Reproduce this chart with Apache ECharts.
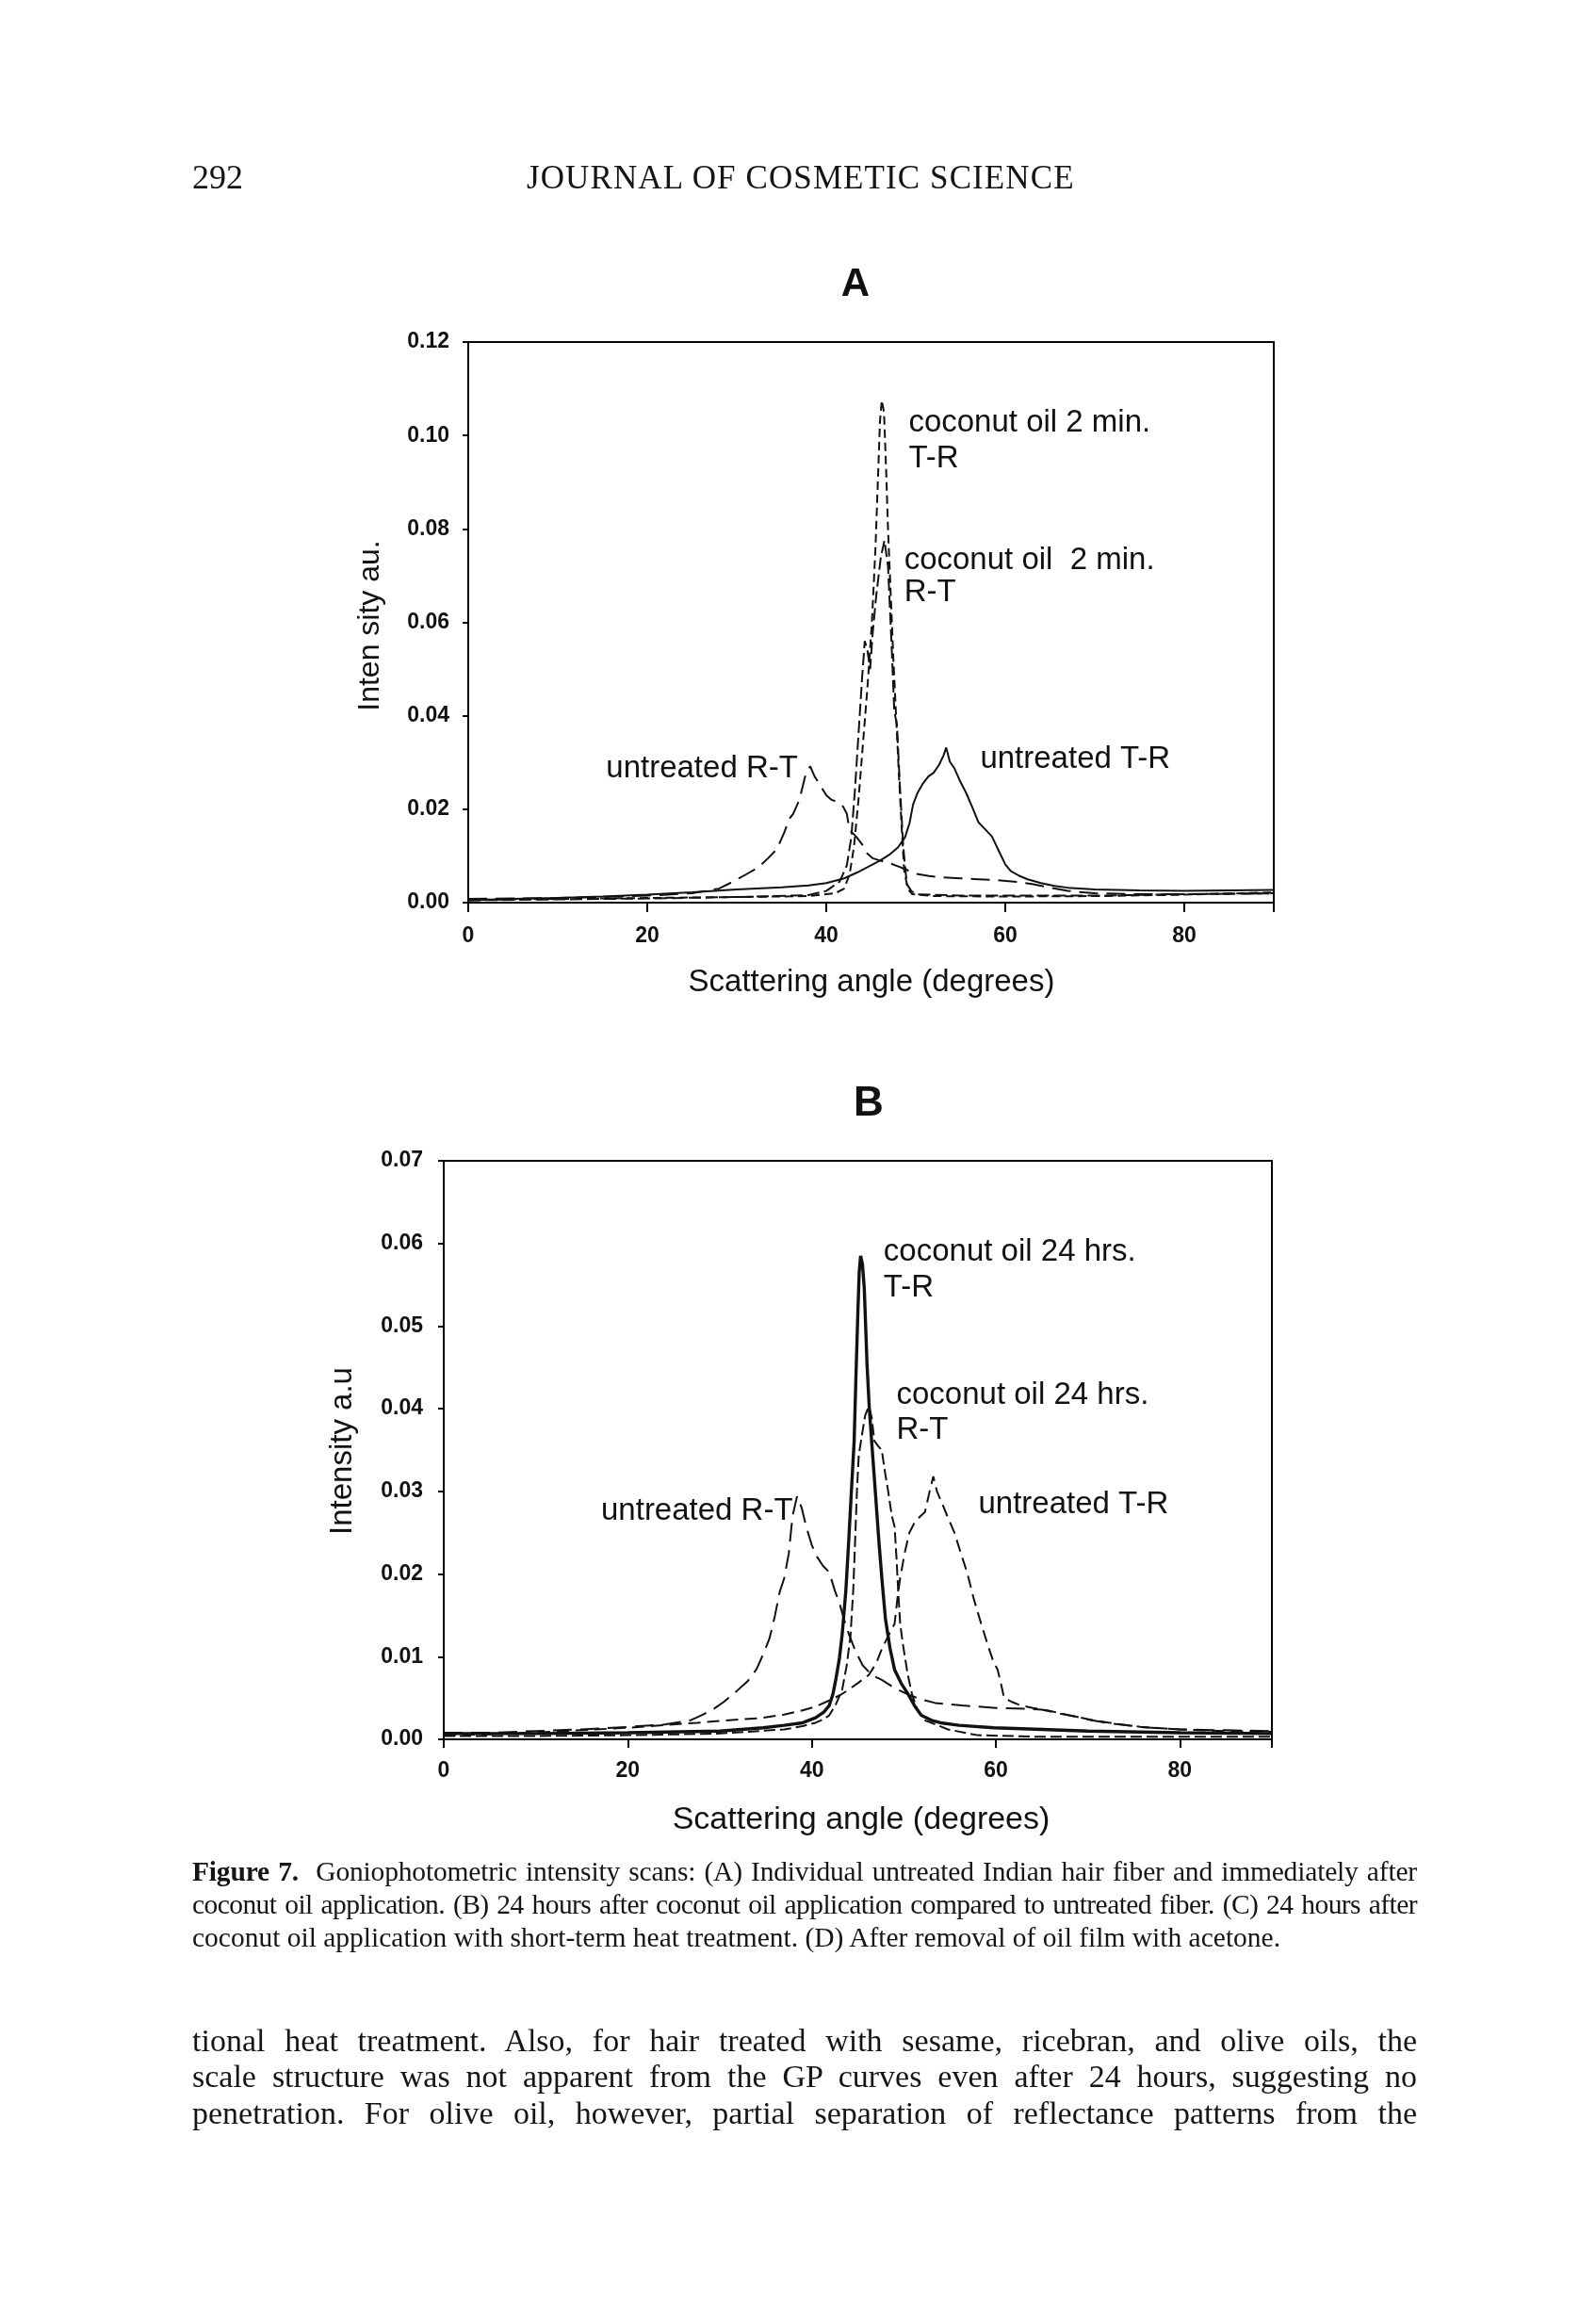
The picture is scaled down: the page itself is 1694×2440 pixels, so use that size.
<!DOCTYPE html>
<html><head><meta charset="utf-8">
<script src="https://cdn.jsdelivr.net/npm/echarts@6/dist/echarts.min.js"></script>
<style>
html,body{margin:0;padding:0;background:#fff;}
#page{position:relative;width:1694px;height:2440px;overflow:hidden;background:#fff;}
#chart{position:absolute;left:0;top:0;width:1694px;height:2440px;}
.t{position:absolute;font-family:'Liberation Serif','DejaVu Serif',serif;color:#151515;line-height:1;white-space:nowrap;}
</style></head>
<body><div id="page"><div id="chart"></div>
<div class="t" style="left:204px;top:170px;font-size:36px;">292</div>
<div class="t" style="left:559px;top:171px;font-size:35px;letter-spacing:1.1px;">JOURNAL OF COSMETIC SCIENCE</div>
<div class="t fit" style="left:204px;top:1972px;font-size:29.5px;"><span style="font-weight:bold;">Figure 7.</span>&nbsp; Goniophotometric intensity scans: (A) Individual untreated Indian hair fiber and immediately after</div>
<div class="t fit" style="left:204px;top:2007px;font-size:29.5px;">coconut oil application. (B) 24 hours after coconut oil application compared to untreated fiber. (C) 24 hours after</div>
<div class="t" style="left:204px;top:2042px;font-size:29.5px;">coconut oil application with short-term heat treatment. (D) After removal of oil film with acetone.</div>
<div class="t fit" style="left:204px;top:2149px;font-size:34px;">tional heat treatment. Also, for hair treated with sesame, ricebran, and olive oils, the</div>
<div class="t fit" style="left:204px;top:2187px;font-size:34px;">scale structure was not apparent from the GP curves even after 24 hours, suggesting no</div>
<div class="t fit" style="left:204px;top:2226px;font-size:34px;">penetration. For olive oil, however, partial separation of reflectance patterns from the</div>
</div>
<script>
// justify each full text line to the column width (204 .. 1504)
(function(){
  const target = 1300;
  document.querySelectorAll('.fit').forEach(function(el){
    let w = el.getBoundingClientRect().width;
    const txt = el.textContent;
    const spaces = (txt.match(/[ \u00a0]/g) || []).length;
    if (w > target - spaces * 1) {
      el.style.letterSpacing = ((target - spaces * 2 - w) / txt.length) + 'px';
      w = el.getBoundingClientRect().width;
    }
    el.style.wordSpacing = ((target - w) / spaces) + 'px';
  });
})();

// ---------- DATA ----------
// Panel A: axis ticks
const xTicksA = [0, 20, 40, 60, 80];
const yTicksA = [0, 0.02, 0.04, 0.06, 0.08, 0.10, 0.12];
// Panel B: axis ticks
const xTicksB = [0, 20, 40, 60, 80];
const yTicksB = [0, 0.01, 0.02, 0.03, 0.04, 0.05, 0.06, 0.07];

// Panel A series  [angle, intensity]
const aUntreatedRT = [[0,0.0008],[5,0.0009],[10,0.001],[15,0.0012],[20,0.0015],[25,0.002],[28,0.003],[29.6,0.0045],[31,0.006],[32.4,0.0075],[33.5,0.0095],[34.5,0.0115],[35.3,0.015],[35.9,0.018],[36.3,0.019],[37,0.022],[37.7,0.0275],[38.2,0.0292],[38.7,0.027],[39.2,0.0255],[40,0.023],[40.6,0.022],[41.3,0.0215],[41.9,0.0205],[42.3,0.019],[42.6,0.0155],[43,0.0148],[43.4,0.014],[44,0.0125],[44.6,0.0105],[45.2,0.0095],[46,0.009],[47,0.0085],[48,0.0078],[49,0.007],[50,0.0062],[51.5,0.0057],[53,0.0054],[55,0.0052],[57,0.005],[59,0.0048],[61,0.0045],[63,0.004],[65,0.0032],[67,0.0025],[70,0.002],[75,0.0018],[80,0.0018],[85,0.0019],[90,0.002]];
const aUntreatedTR = [[0,0.0005],[5,0.0008],[10,0.001],[15,0.0013],[20,0.0017],[25,0.0022],[30,0.0028],[35,0.0033],[38,0.0037],[40,0.0042],[42,0.0052],[43.5,0.0065],[45,0.008],[46,0.009],[47,0.0102],[48,0.0118],[48.8,0.014],[49.3,0.017],[49.7,0.021],[50.2,0.0235],[50.8,0.0255],[51.4,0.027],[52,0.0278],[52.6,0.0295],[53.1,0.0315],[53.4,0.0332],[53.8,0.0302],[54.3,0.0288],[55,0.0258],[55.6,0.0236],[56.3,0.0205],[57,0.0172],[57.8,0.0156],[58.5,0.0142],[59.3,0.011],[60,0.0082],[60.6,0.0068],[61.5,0.0058],[62.5,0.005],[64,0.0042],[65.5,0.0036],[67,0.0032],[70,0.0028],[75,0.0026],[80,0.0025],[85,0.0026],[90,0.0027]];
const aCoconutTR = [[0,0.0006],[10,0.0008],[20,0.001],[30,0.0012],[38,0.0014],[41,0.002],[42,0.003],[42.6,0.006],[43.1,0.012],[43.6,0.022],[44.1,0.034],[44.6,0.046],[45.1,0.06],[45.5,0.076],[45.8,0.092],[46,0.103],[46.2,0.1075],[46.45,0.105],[46.7,0.092],[46.9,0.08],[47.2,0.066],[47.5,0.052],[47.8,0.04],[48.1,0.028],[48.4,0.017],[48.7,0.007],[49.1,0.003],[49.6,0.0018],[52,0.0014],[60,0.0013],[70,0.0014],[80,0.0017],[90,0.0022]];
const aCoconutRT = [[0,0.0005],[10,0.0007],[20,0.0009],[30,0.0012],[38,0.0016],[40,0.0025],[41.5,0.0045],[42.3,0.008],[42.8,0.014],[43.2,0.024],[43.6,0.036],[44,0.048],[44.3,0.056],[44.6,0.054],[44.9,0.05],[45.2,0.058],[45.6,0.066],[46.1,0.074],[46.5,0.0775],[46.9,0.072],[47.3,0.055],[47.6,0.041],[47.9,0.038],[48.2,0.026],[48.6,0.012],[49,0.004],[49.5,0.0025],[50,0.0018],[55,0.0015],[60,0.0015],[70,0.0015],[80,0.0018],[90,0.002]];

// Panel B series
const bUntreatedRT = [[0,0.0008],[5,0.0008],[10,0.001],[15,0.0012],[20,0.0015],[24,0.0018],[26.8,0.0023],[28.2,0.003],[29.5,0.0038],[30.4,0.0045],[31.8,0.0058],[33,0.007],[34,0.0085],[34.8,0.0105],[35.4,0.0122],[36,0.015],[36.5,0.0178],[37,0.0195],[37.5,0.0225],[37.9,0.027],[38.4,0.0294],[38.9,0.028],[39.4,0.0257],[40,0.0235],[40.5,0.0222],[41.2,0.021],[41.9,0.0202],[42.5,0.018],[43,0.0165],[43.5,0.0145],[44,0.0128],[44.7,0.0108],[45.5,0.009],[46.5,0.0078],[47.6,0.0072],[49,0.0062],[50.5,0.0054],[52,0.0048],[53.4,0.0044],[56.3,0.0041],[60,0.0038],[63,0.0037],[65,0.0036],[67,0.0031],[68.5,0.0028],[70,0.0024],[72,0.002],[75.7,0.0015],[80,0.0012],[85,0.0011],[90,0.001]];
const bUntreatedTR = [[0,0.0005],[5,0.0006],[10,0.0008],[13,0.001],[20,0.0014],[27.5,0.002],[31,0.0023],[34.7,0.0026],[37,0.003],[39,0.0035],[40.5,0.004],[41.9,0.0047],[43,0.0053],[44,0.006],[45,0.0068],[46.2,0.0078],[47,0.0092],[47.6,0.0109],[48.3,0.0125],[49,0.014],[49.3,0.017],[49.6,0.0195],[50.1,0.0226],[50.6,0.025],[51.2,0.0263],[51.8,0.027],[52.3,0.0275],[52.8,0.03],[53.2,0.0318],[53.6,0.03],[54.1,0.0287],[54.8,0.0268],[55.5,0.025],[56.2,0.0225],[56.9,0.0201],[57.6,0.017],[58.4,0.014],[59.1,0.0115],[59.7,0.0095],[60.2,0.0084],[60.6,0.0065],[60.9,0.005],[61.8,0.0045],[62.7,0.0041],[64,0.0038],[65.6,0.0035],[68,0.0029],[70.6,0.0023],[73,0.0019],[75.7,0.0015],[80,0.0012],[85,0.001],[90,0.0009]];
const bCoconutTR = [[0,0.0007],[10,0.0007],[20,0.0008],[30,0.001],[34.7,0.0014],[37,0.0017],[39,0.002],[40.4,0.0026],[41.3,0.0033],[41.9,0.0041],[42.3,0.0055],[42.6,0.0072],[43,0.0098],[43.3,0.0127],[43.7,0.018],[44,0.0238],[44.3,0.03],[44.6,0.0361],[44.8,0.044],[45,0.0515],[45.15,0.0565],[45.3,0.0585],[45.5,0.0575],[45.7,0.0546],[45.85,0.05],[46,0.0454],[46.25,0.04],[46.5,0.0361],[46.9,0.03],[47.3,0.0238],[47.65,0.019],[48,0.0146],[48.5,0.011],[49,0.0084],[49.7,0.0068],[50.5,0.0054],[51.2,0.004],[51.9,0.0029],[53,0.0023],[54,0.002],[56,0.0017],[59.8,0.0014],[65,0.0012],[70,0.001],[80,0.0008],[90,0.0007]];
const bCoconutRT = [[0,0.0004],[10,0.0004],[20,0.0005],[30,0.0007],[37,0.0012],[39,0.0016],[40.4,0.002],[41.2,0.0024],[41.9,0.0029],[42.6,0.0042],[43.3,0.006],[43.8,0.009],[44.2,0.0125],[44.5,0.018],[44.7,0.0238],[44.9,0.03],[45.1,0.0343],[45.4,0.0365],[45.8,0.0392],[46.2,0.0403],[46.5,0.039],[46.8,0.0361],[47.2,0.0355],[47.6,0.035],[48,0.032],[48.3,0.03],[48.7,0.027],[49,0.0257],[49.2,0.022],[49.4,0.0177],[49.6,0.014],[49.9,0.0115],[50.4,0.008],[50.9,0.0054],[51.5,0.0035],[52.3,0.0023],[54.8,0.0012],[58,0.0005],[65,0.0003],[80,0.0003],[90,0.0003]];

// Annotation texts (data coordinates)
const annA = [
  {t:'coconut oil 2 min.', x:49.2, y:0.1026},
  {t:'T-R', x:49.2, y:0.0950},
  {t:'coconut oil  2 min.', x:48.7, y:0.0733},
  {t:'R-T', x:48.7, y:0.0664},
  {t:'untreated R-T', x:15.4, y:0.0286},
  {t:'untreated T-R', x:57.2, y:0.0307}
];
const annB = [
  {t:'coconut oil 24 hrs.', x:47.8, y:0.0589},
  {t:'T-R', x:47.8, y:0.0546},
  {t:'coconut oil 24 hrs.', x:49.2, y:0.0416},
  {t:'R-T', x:49.2, y:0.0374},
  {t:'untreated R-T', x:17.1, y:0.0276},
  {t:'untreated T-R', x:58.1, y:0.0284}
];

// ---------- CHART ----------
const SANS = "'Liberation Sans', Arial, 'DejaVu Sans', sans-serif";
const INK = '#111';
const chart = echarts.init(document.getElementById('chart'), null, {renderer:'canvas', width:1694, height:2440});

function xAxisCfg(g, ticks, margin, tickLen){
  return {gridIndex:g, type:'value', min:ticks[0], max:90, interval:ticks[1]-ticks[0],
    axisLine:{show:true, onZero:false, lineStyle:{color:'#000', width:2}},
    axisTick:{show:true, length:tickLen, lineStyle:{color:'#000', width:2}},
    axisLabel:{show:true, margin:margin, fontSize:23, fontWeight:'bold', color:INK, fontFamily:SANS,
      formatter:function(v){ return ticks.indexOf(v) >= 0 ? String(v) : ''; }},
    splitLine:{show:false}};
}
function yAxisCfg(g, ticks, margin){
  const step = ticks[1]-ticks[0];
  return {gridIndex:g, type:'value', min:ticks[0], max:ticks[ticks.length-1], interval:step,
    axisLine:{show:true, onZero:false, lineStyle:{color:'#000', width:2}},
    axisTick:{show:true, length:6, lineStyle:{color:'#000', width:2}},
    axisLabel:{show:true, margin:margin, fontSize:23, fontWeight:'bold', color:INK, fontFamily:SANS,
      formatter:function(v){ return v.toFixed(2); }},
    splitLine:{show:false}};
}
function line(name, data, g, dash, w){
  return {name:name, type:'line', xAxisIndex:g, yAxisIndex:g, data:data, symbol:'none', showSymbol:false,
    smooth:false, animation:false, silent:true, lineStyle:{color:INK, width:w||2, type:dash||'solid'}};
}

const option = {
  animation:false,
  backgroundColor:'transparent',
  grid:[
    {left:497, top:363, width:855, height:595, show:true, borderColor:'#000', borderWidth:2, containLabel:false},
    {left:471, top:1232, width:879, height:614, show:true, borderColor:'#000', borderWidth:2, containLabel:false}
  ],
  xAxis:[xAxisCfg(0, xTicksA, 24, 10), xAxisCfg(1, xTicksB, 22, 9)],
  yAxis:[yAxisCfg(0, yTicksA, 20), yAxisCfg(1, yTicksB, 22)],
  series:[
    line('untreated R-T', aUntreatedRT, 0, [20,9], 2),
    line('untreated T-R', aUntreatedTR, 0, 'solid', 2),
    line('coconut oil 2 min. T-R', aCoconutTR, 0, [9,5], 2),
    line('coconut oil 2 min. R-T', aCoconutRT, 0, [13,5], 2),
    line('untreated R-T', bUntreatedRT, 1, [20,9], 2),
    line('untreated T-R', bUntreatedTR, 1, [13,7], 2),
    line('coconut oil 24 hrs. R-T', bCoconutRT, 1, [12,5], 2),
    line('coconut oil 24 hrs. T-R', bCoconutTR, 1, 'solid', 3.4)
  ]
};
chart.setOption(option);

function txt(x, y, s, size, opts){
  opts = opts || {};
  return {type:'text', x:x, y:y, rotation:opts.rot||0, silent:true, z:100,
    style:{text:s, fill:INK, font:(opts.weight||'normal')+' '+size+'px '+SANS,
      textAlign:opts.align||'left', textVerticalAlign:'middle', align:opts.align||'left', verticalAlign:'middle'}};
}
const graphics = [];
graphics.push(txt(908, 302, 'A', 42, {weight:'bold', align:'center'}));
graphics.push(txt(922, 1172, 'B', 44, {weight:'bold', align:'center'}));
graphics.push(txt(925, 1043, 'Scattering angle (degrees)', 33, {align:'center'}));
graphics.push(txt(914, 1932, 'Scattering angle (degrees)', 34, {align:'center'}));
graphics.push(txt(393, 664, 'Inten sity au.', 32, {align:'center', rot:Math.PI/2}));
graphics.push(txt(364, 1540, 'Intensity a.u', 33, {align:'center', rot:Math.PI/2}));
annA.forEach(function(a){
  const p = chart.convertToPixel({gridIndex:0}, [a.x, a.y]);
  graphics.push(txt(p[0], p[1], a.t, 33));
});
annB.forEach(function(a){
  const p = chart.convertToPixel({gridIndex:1}, [a.x, a.y]);
  graphics.push(txt(p[0], p[1], a.t, 33));
});
chart.setOption({graphic:graphics});
</script>
</body></html>
